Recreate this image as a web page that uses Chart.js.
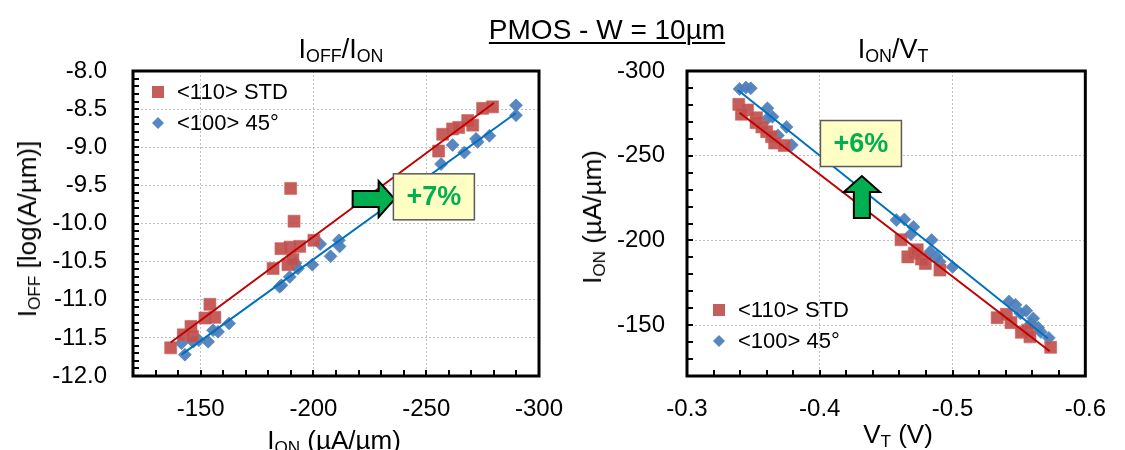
<!DOCTYPE html>
<html>
<head>
<meta charset="utf-8">
<script src="https://cdn.jsdelivr.net/npm/chart.js@4.4.1/dist/chart.umd.min.js"></script>
<style>
  body { margin: 0; background: #fff; font-family: "Liberation Sans", Arial, sans-serif; }
  #page { position: relative; width: 1125px; height: 450px; overflow: hidden; }
  .pane { position: absolute; top: 0; height: 450px; }
  .txt { position: absolute; white-space: nowrap; line-height: 1; color: #000; }
  .txt sub { font-size: 0.66em; vertical-align: -0.24em; line-height: 0; }
  #mainTitle { left: 607px; top: 16px; font-size: 28px; transform: translateX(-50%);
    text-decoration: underline; text-decoration-thickness: 2px; text-underline-offset: 3px; }
  .sub-title { font-size: 27px; top: 36px; transform: translateX(-50%); }
  .axis-title { font-size: 26px; }
  .rot { transform: translate(-50%, -50%) rotate(-90deg); }
  .hor { transform: translateX(-50%); }
</style>
</head>
<body>
<div id="page">
  <div class="pane" style="left:0;width:600px"><canvas id="chartLeft" width="600" height="450"></canvas></div>
  <div class="pane" style="left:560px;width:565px"><canvas id="chartRight" width="565" height="450"></canvas></div>

  <div id="mainTitle" class="txt">PMOS - W = 10µm</div>
  <div class="txt sub-title" style="left:341px">I<sub>OFF</sub>/I<sub>ON</sub></div>
  <div class="txt sub-title" style="left:893px">I<sub>ON</sub>/V<sub>T</sub></div>

  <div class="txt axis-title rot" style="left:27px;top:229px">I<sub>OFF</sub> [log(A/µm)]</div>
  <div class="txt axis-title hor" style="left:334px;top:427px">I<sub>ON</sub> (µA/µm)</div>
  <div class="txt axis-title rot" style="left:592px;top:217px">I<sub>ON</sub> (µA/µm)</div>
  <div class="txt axis-title hor" style="left:898px;top:421px">V<sub>T</sub> (V)</div>
</div>

<script>
// ---- data ----
const seriesNames = ['<110> STD', '<100> 45°'];

// left panel: Ioff vs Ion
const leftStdX = [-136.7, -142.3, -145.7, -146.4, -151.9, -154.1, -156.3,
  -182.1, -185.6, -189.6, -193.9, -188.7, -190.9, -200.2, -189.9, -191.4,
  -255.5, -257.3, -261.7, -264.4, -268.4, -270.6, -275.0, -279.4];
const leftStdY = [-11.63, -11.46, -11.35, -11.48, -11.24, -11.06, -11.23,
  -10.59, -10.33, -10.31, -10.30, -10.54, -10.47, -10.22, -9.54, -9.97,
  -9.05, -8.83, -8.76, -8.74, -8.65, -8.71, -8.49, -8.47];
const left45X = [-141.5, -143.0, -146.7, -149.2, -153.3, -155.5, -157.7, -162.6,
  -185.0, -185.8, -189.5, -192.0, -193.1, -199.5, -203.0, -207.6, -211.3, -211.6,
  -256.6, -261.7, -266.9, -272.1, -272.8, -278.0, -289.8, -289.8];
const left45Y = [-11.57, -11.72, -11.55, -11.53, -11.55, -11.40, -11.42, -11.31,
  -10.83, -10.81, -10.70, -10.52, -10.59, -10.54, -10.27, -10.43, -10.22, -10.30,
  -9.22, -8.97, -9.07, -8.89, -8.93, -8.85, -8.45, -8.58];
const leftStdFitX = [-136.7, -280.0];
const leftStdFitY = [-11.56, -8.42];
const left45FitX = [-141.5, -289.8];
const left45FitY = [-11.72, -8.55];
const leftXTicks = [-150, -200, -250, -300];
const leftYTicks = [-12.0, -11.5, -11.0, -10.5, -10.0, -9.5, -9.0, -8.5, -8.0];

// right panel: Ion vs Vt
const rightStdX = [-0.339, -0.3456, -0.341, -0.3523, -0.352, -0.3564, -0.360, -0.3637, -0.366, -0.3733,
  -0.4612, -0.4663, -0.4712, -0.4734, -0.4765, -0.4795, -0.4905,
  -0.5336, -0.5405, -0.544, -0.5518, -0.5565, -0.5583, -0.5739];
const rightStdY = [-280.3, -277.0, -274.5, -272.4, -269.5, -267.0, -264.2, -261.2, -257.5, -256.0,
  -200.4, -190.3, -192.5, -194.5, -189.0, -186.4, -182.5,
  -154.4, -156.4, -151.5, -145.8, -147.0, -143.1, -136.9];
const right45X = [-0.3396, -0.3444, -0.348, -0.3606, -0.3606, -0.3644, -0.375, -0.3685, -0.3789,
  -0.4577, -0.4637, -0.4705, -0.4686, -0.4843, -0.4831, -0.4879, -0.4903, -0.500,
  -0.5425, -0.5474, -0.5511, -0.5555, -0.5608, -0.559, -0.5645, -0.5665, -0.5725];
const right45Y = [-289.4, -290.2, -289.8, -278.0, -272.0, -273.0, -267.0, -262.0, -256.3,
  -212.0, -212.4, -208.0, -203.7, -200.2, -193.3, -190.3, -187.4, -184.4,
  -164.0, -162.0, -157.0, -158.5, -154.0, -151.0, -148.5, -146.0, -142.5];
const rightStdFitX = [-0.3396, -0.5732];
const rightStdFitY = [-275.4, -134.6];
const right45FitX = [-0.3383, -0.5719];
const right45FitY = [-288.8, -142.1];
const rightXTicks = [-0.3, -0.4, -0.5, -0.6];
const rightYTicks = [-300, -250, -200, -150];

const notes = {
  left: { text: '+7%', boxX: -253.4, boxY: -9.65, tipX: -236.0, tipY: -9.68, dir: 'right' },
  right: { text: '+6%', boxX: -0.431, boxY: -257.2, tipX: -0.4317, tipY: -238.0, dir: 'up' },
};

// ---- styles ----
const FONT = '"Liberation Sans", Arial, sans-serif';
const RED = 'rgba(192,80,77,0.92)';
const BLUE = 'rgba(79,129,189,0.95)';
const RED_LINE = '#C00000';
const BLUE_LINE = '#0070C0';

Chart.defaults.font.family = FONT;
Chart.defaults.color = '#000';

const pts = (xs, ys) => xs.map((x, i) => ({ x, y: ys[i] }));

function fitLine(xs, ys, color) {
  return {
    data: pts(xs, ys), showLine: true, borderColor: color, borderWidth: 2,
    pointRadius: 0, fill: false,
  };
}

function markers(label, xs, ys, kind) {
  const red = kind === 'std';
  return {
    label, data: pts(xs, ys),
    pointStyle: red ? 'rect' : 'rectRot',
    pointRadius: red ? 8.5 : 6.5,
    backgroundColor: red ? RED : BLUE,
    borderColor: red ? 'rgba(200,100,97,0.6)' : 'rgba(79,129,189,0.6)',
    borderWidth: 1,
  };
}

// frame + inward minor ticks
const framePlugin = {
  id: 'frame',
  afterDatasetsDraw(chart, args, opts) {
    const { ctx, chartArea: a, scales } = chart;
    ctx.save();
    ctx.strokeStyle = '#000';
    ctx.lineWidth = 2;
    ctx.beginPath();
    const n = Math.round((scales.x.max - scales.x.min) / opts.xStep);
    for (let k = 1; k < n; k++) {
      const px = Math.round(scales.x.getPixelForValue(scales.x.min + k * opts.xStep));
      ctx.moveTo(px, a.bottom);
      ctx.lineTo(px, a.bottom - 6);
    }
    const m = Math.round((scales.y.max - scales.y.min) / opts.yStep);
    for (let k = 1; k < m; k++) {
      const py = Math.round(scales.y.getPixelForValue(scales.y.min + k * opts.yStep));
      ctx.moveTo(a.left, py);
      ctx.lineTo(a.left + 6, py);
    }
    ctx.stroke();
    ctx.lineWidth = 3;
    ctx.strokeRect(a.left, a.top, a.right - a.left, a.bottom - a.top);
    ctx.restore();
  },
};

// arrow + yellow label box
const notePlugin = {
  id: 'note',
  afterDatasetsDraw(chart, args, opts) {
    const n = opts.note;
    if (!n) return;
    const { ctx, scales } = chart;
    const tx = scales.x.getPixelForValue(n.tipX);
    const ty = scales.y.getPixelForValue(n.tipY);
    const d = n.dir === 'right' ? [1, 0] : [0, -1];
    const p = n.dir === 'right' ? [0, 1] : [1, 0];
    const L = 42, h = 16, H = 18, b = 8;
    const shape = [[L, -b], [h, -b], [h, -H], [0, 0], [h, H], [h, b], [L, b]];
    ctx.save();
    ctx.beginPath();
    shape.forEach(([al, ac], i) => {
      const x = tx - d[0] * al + p[0] * ac;
      const y = ty - d[1] * al + p[1] * ac;
      if (i) ctx.lineTo(x, y); else ctx.moveTo(x, y);
    });
    ctx.closePath();
    ctx.fillStyle = '#00B050';
    ctx.fill();
    ctx.lineWidth = 2;
    ctx.strokeStyle = '#000';
    ctx.stroke();

    const cx = scales.x.getPixelForValue(n.boxX);
    const cy = scales.y.getPixelForValue(n.boxY);
    const w = 81, ht = 46;
    ctx.fillStyle = '#FFFFC4';
    ctx.fillRect(cx - w / 2, cy - ht / 2, w, ht);
    ctx.lineWidth = 1.5;
    ctx.strokeStyle = '#5a5a5a';
    ctx.strokeRect(cx - w / 2, cy - ht / 2, w, ht);
    ctx.fillStyle = '#00B050';
    ctx.font = 'bold 27px ' + FONT;
    ctx.textAlign = 'center';
    ctx.textBaseline = 'middle';
    ctx.fillText(n.text, cx, cy + 1);
    ctx.restore();
  },
};

// legend drawn inside the plot area
const legendPlugin = {
  id: 'innerLegend',
  afterDraw(chart, args, opts) {
    const { ctx, chartArea: a } = chart;
    ctx.save();
    ctx.font = '22px ' + FONT;
    ctx.textBaseline = 'middle';
    ctx.textAlign = 'left';
    seriesNames.forEach((name, i) => {
      const mx = a.left + opts.dx;
      const my = a.top + opts.dy + i * 31;
      ctx.beginPath();
      if (i === 0) {
        ctx.rect(mx - 6, my - 6, 12, 12);
        ctx.fillStyle = RED;
      } else {
        ctx.moveTo(mx - 6, my); ctx.lineTo(mx, my - 6);
        ctx.lineTo(mx + 6, my); ctx.lineTo(mx, my + 6);
        ctx.closePath();
        ctx.fillStyle = BLUE;
      }
      ctx.fill();
      ctx.fillStyle = '#000';
      ctx.fillText(name, mx + 19, my + 1);
    });
    ctx.restore();
  },
};

function axis(min, max, ticksList, fmt, reverse, pad, size) {
  return {
    type: 'linear', min, max, reverse,
    afterBuildTicks: s => { s.ticks = ticksList.map(v => ({ value: v })); },
    afterFit: s => { if (s.isHorizontal()) s.height = size; else s.width = size; },
    ticks: { callback: fmt, font: { size: 24 }, color: '#000', padding: pad, maxRotation: 0, autoSkip: false },
    grid: { color: '#BFBFBF', lineWidth: 1, drawTicks: false },
    border: { display: false, dash: [2, 2] },
  };
}

function makeChart(id, cfg) {
  return new Chart(document.getElementById(id), {
    type: 'scatter',
    data: { datasets: cfg.datasets },
    options: {
      responsive: false, animation: false, devicePixelRatio: 1,
      layout: { padding: cfg.padding },
      scales: { x: cfg.x, y: cfg.y },
      plugins: {
        legend: { display: false }, tooltip: { enabled: false },
        frame: cfg.frame, note: { note: cfg.note }, innerLegend: cfg.legend,
      },
    },
    plugins: [framePlugin, notePlugin, legendPlugin],
  });
}

makeChart('chartLeft', {
  datasets: [
    fitLine(leftStdFitX, leftStdFitY, RED_LINE),
    fitLine(left45FitX, left45FitY, BLUE_LINE),
    markers(seriesNames[0], leftStdX, leftStdY, 'std'),
    markers(seriesNames[1], left45X, left45Y, '45'),
  ],
  padding: { left: 0, top: 71, right: 61, bottom: 0 },
  x: axis(-300, -120, leftXTicks, v => String(Math.round(v)), true, 19, 74),
  y: axis(-12, -8, leftYTicks, v => v.toFixed(1), false, 26, 133),
  frame: { xStep: 10, yStep: 0.1 },
  note: notes.left,
  legend: { dx: 25, dy: 21 },
});

makeChart('chartRight', {
  datasets: [
    fitLine(rightStdFitX, rightStdFitY, RED_LINE),
    fitLine(right45FitX, right45FitY, BLUE_LINE),
    markers(seriesNames[0], rightStdX, rightStdY, 'std'),
    markers(seriesNames[1], right45X, right45Y, '45'),
  ],
  padding: { left: 0, top: 71, right: 23, bottom: 0 },
  x: axis(-0.6, -0.3, rightXTicks, v => v.toFixed(1), true, 19, 74),
  y: axis(-300, -120, rightYTicks, v => String(Math.round(v)), true, 22, 127),
  frame: { xStep: 0.02, yStep: 10 },
  note: notes.right,
  legend: { dx: 32, dy: 239 },
});
</script>
</body>
</html>
